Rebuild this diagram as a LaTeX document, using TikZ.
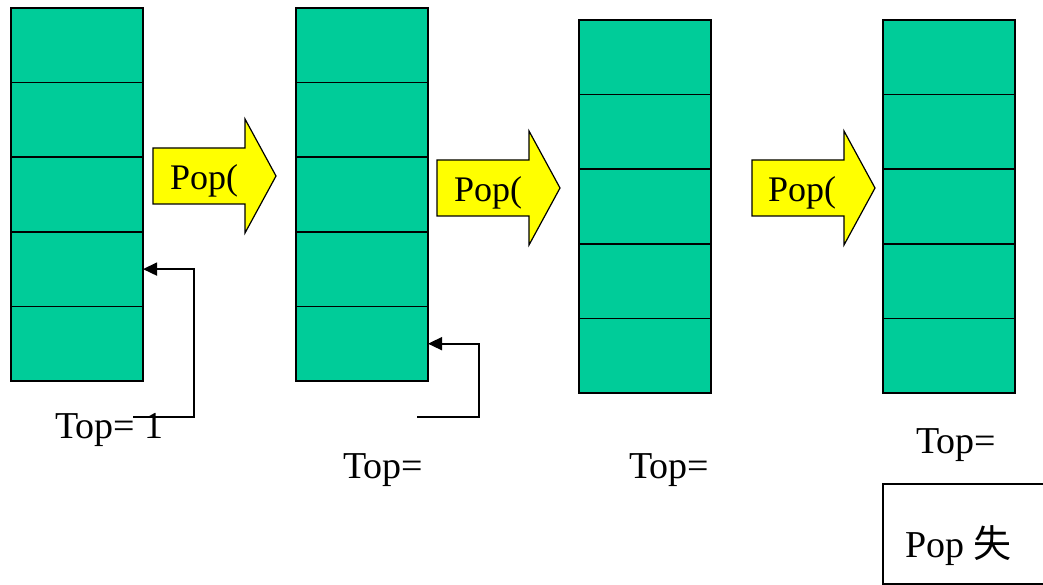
\documentclass[tikz,border=0pt]{standalone}
\usepackage{fontspec}
\setmainfont{Liberation Serif}
\newfontfamily\cjk{Noto Sans CJK TC}
\usetikzlibrary{positioning,arrows.meta}
\definecolor{stackgreen}{RGB}{0,204,153}
\definecolor{popyellow}{RGB}{255,255,0}

\begin{document}
\begin{tikzpicture}[x=1pt, y=-1pt,
    cell/.style={draw, line width=1.5pt, fill=stackgreen, minimum width=132pt,
      minimum height=74.6pt, inner sep=0pt, outer sep=0pt, anchor=north west},
    popshape/.style={draw, line width=1.2pt, fill=popyellow, line join=miter},
    txt/.style={font=\fontsize{36}{40}\selectfont, inner sep=0pt, anchor=base west},
    toptxt/.style={txt, font=\fontsize{38}{42}\selectfont},
    pointer/.style={line width=1.6pt, -{Triangle[length=14pt,width=13pt]}}]
    \useasboundingbox (0,0) rectangle (1043,585);
    \clip (0,0) rectangle (1043,585);

    % the four stacks, five cells each
    \foreach \s/\x/\y in {1/11/8, 2/296/8, 3/579/20, 4/883/20}
      \foreach \r in {1,...,5}
        \node[cell] (st\s-\r) at (\x, {\y+(\r-1)*74.6}) {};

    % Pop( block arrows
    \foreach \x/\y in {153/148, 437/160, 752/160}
      \draw[popshape, shift={(\x,\y)}] (0,0) -- (92,0) -- (92,-29) -- (123,28)
        -- (92,85) -- (92,56) -- (0,56) -- cycle;
    \node[txt] (op1) at (170,190) {Pop(};
    \node[txt] (op2) at (454,202) {Pop(};
    \node[txt] (op3) at (768,202) {Pop(};

    % top labels
    \node[toptxt] (top1) at (55,438) {Top= 1};
    \node[toptxt] (top2) at (343,478) {Top=};
    \node[toptxt] (top3) at (629,478) {Top=};
    \node[toptxt] (top4) at (916,453) {Top=};

    % top pointers
    \coordinate (tail1) at (133,417);
    \coordinate (tail2) at (417,417);
    \draw[pointer] (tail1) -- ++(61,0) |- (st1-4.east);
    \draw[pointer] (tail2) -- ++(62,0) |- (st2-5.east);

    % failure box
    \node[draw, line width=1.5pt, anchor=north west, minimum width=200pt,
      minimum height=100pt, inner sep=0pt] (failbox) at (882,483) {};
    \node[toptxt] (failtext) at (905,557) {Pop {\cjk 失}};
\end{tikzpicture}
\end{document}
